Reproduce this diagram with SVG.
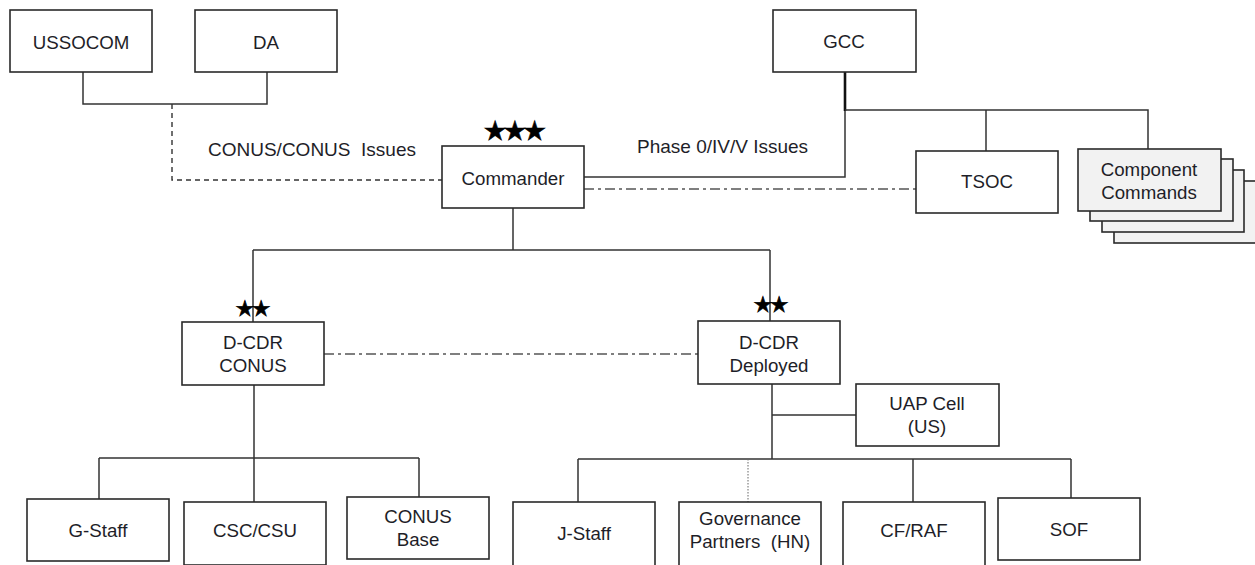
<svg xmlns="http://www.w3.org/2000/svg" width="1255" height="565" viewBox="0 0 1255 565">
<style>
.box{fill:#fff;stroke:#2a2a2a;stroke-width:1.6}
.stack{fill:#f2f2f2;stroke:#2a2a2a;stroke-width:1.6}
.t{font-family:"Liberation Sans",Arial,sans-serif;font-size:18.7px;fill:#1e1e28;text-anchor:middle}
.lbl{font-family:"Liberation Sans",Arial,sans-serif;font-size:19px;fill:#1e1e28}
.star{font-family:"DejaVu Sans",sans-serif;fill:#000;stroke:#000;stroke-width:0.6}
.ln{fill:none;stroke:#333;stroke-width:1.5}
.dash{fill:none;stroke:#333;stroke-width:1.4;stroke-dasharray:5 4}
.dashdot{fill:none;stroke:#555;stroke-width:1.6;stroke-dasharray:10 4 3 4}
.dot{fill:none;stroke:#666;stroke-width:1;stroke-dasharray:1.5 1.5}
</style>
<g id="connectors">
<path class="ln" d="M83 72V104H267V72"/>
<path class="dash" d="M172 104V180H442"/>
<path class="ln" d="M584 177H845V110"/>
<path fill="none" stroke="#111" stroke-width="2.6" d="M845 72V111"/>
<path class="ln" d="M845 110H1148V149M986 110V151"/>
<path class="dashdot" d="M584 189H916"/>
<path class="ln" d="M513 208V250M253 250H770M253 250V322M770 250V321"/>
<path class="dashdot" d="M324 354H698"/>
<path class="ln" d="M254 385V502M99 458H419M99 458V500M419 458V497"/>
<path class="ln" d="M772 384V459M772 415H856M578 459H1071M578 459V502M913 459V502M1071 459V498"/>
<path class="dot" d="M748 459V502"/>
</g>
<g id="ussocom"><rect class="box" x="10" y="10" width="142" height="62"/><text class="t" x="81" y="49">USSOCOM</text></g>
<g id="da"><rect class="box" x="195" y="10" width="142" height="62"/><text class="t" x="266" y="49">DA</text></g>
<g id="gcc"><rect class="box" x="773" y="10" width="143" height="62"/><text class="t" x="844" y="48">GCC</text></g>
<g id="label-conus"><text class="lbl" x="208" y="156" xml:space="preserve">CONUS/CONUS  Issues</text></g>
<g id="label-phase"><text class="lbl" x="637" y="153">Phase 0/IV/V Issues</text></g>
<g id="commander"><rect class="box" x="442" y="146" width="142" height="62"/><text class="t" x="513" y="185">Commander</text><text class="star" x="483" y="140" font-size="27" letter-spacing="-4.5">★★★</text></g>
<g id="tsoc"><rect class="box" x="916" y="151" width="142" height="62"/><text class="t" x="987" y="188">TSOC</text></g>
<g id="component-commands">
<rect class="stack" x="1114" y="181" width="150" height="62"/>
<rect class="stack" x="1102" y="170" width="142" height="62"/>
<rect class="stack" x="1090" y="159" width="143" height="62"/>
<rect class="stack" x="1078" y="149" width="143" height="62"/>
<text class="t" x="1149" y="176">Component</text><text class="t" x="1149" y="199">Commands</text>
</g>
<g id="dcdr-conus"><rect class="box" x="182" y="322" width="142" height="63"/><text class="t" x="253" y="349">D-CDR</text><text class="t" x="253" y="372">CONUS</text><text class="star" x="235" y="316" font-size="22" letter-spacing="-3.5">★★</text></g>
<g id="dcdr-deployed"><rect class="box" x="698" y="321" width="142" height="63"/><text class="t" x="769" y="349">D-CDR</text><text class="t" x="769" y="372">Deployed</text><text class="star" x="753" y="312" font-size="22" letter-spacing="-3.5">★★</text></g>
<g id="uap-cell"><rect class="box" x="856" y="384" width="143" height="62"/><text class="t" x="927" y="410">UAP Cell</text><text class="t" x="927" y="433">(US)</text></g>
<g id="g-staff"><rect class="box" x="27" y="499" width="142" height="62"/><text class="t" x="98" y="537">G-Staff</text></g>
<g id="csc-csu"><rect class="box" x="184" y="502" width="142" height="63"/><text class="t" x="255" y="537">CSC/CSU</text></g>
<g id="conus-base"><rect class="box" x="347" y="497" width="142" height="62"/><text class="t" x="418" y="523">CONUS</text><text class="t" x="418" y="546">Base</text></g>
<g id="j-staff"><rect class="box" x="513" y="502" width="142" height="64"/><text class="t" x="584" y="540">J-Staff</text></g>
<g id="governance"><rect class="box" x="679" y="502" width="142" height="64"/><text class="t" x="750" y="525">Governance</text><text class="t" x="750" y="548" xml:space="preserve">Partners  (HN)</text></g>
<g id="cf-raf"><rect class="box" x="843" y="502" width="142" height="64"/><text class="t" x="914" y="537">CF/RAF</text></g>
<g id="sof"><rect class="box" x="998" y="498" width="142" height="62"/><text class="t" x="1069" y="536">SOF</text></g>
</svg>
